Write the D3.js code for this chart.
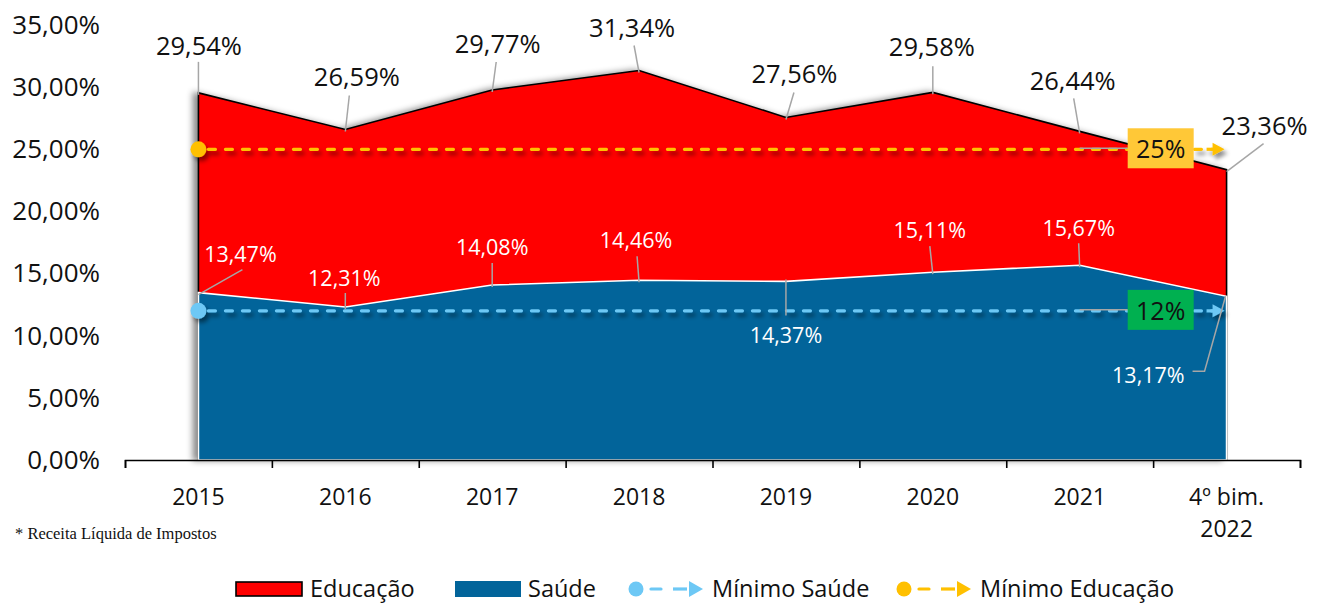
<!DOCTYPE html>
<html lang="pt-BR">
<head>
<meta charset="utf-8">
<title>Educação e Saúde – % da Receita Líquida de Impostos</title>
<script src="https://cdn.jsdelivr.net/npm/d3@7/dist/d3.min.js"></script>
<style>
  html, body { margin: 0; padding: 0; background: #fff; }
  svg { display: block; font-family: "Open Sans", sans-serif; }
</style>
</head>
<body>
<svg id="chart" width="1320" height="603"></svg>
<script>
// ---- data ----
const categories = ["2015", "2016", "2017", "2018", "2019", "2020", "2021", "4º bim.|2022"];
const educacao = [29.54, 26.59, 29.77, 31.34, 27.56, 29.58, 26.44, 23.36];
const saude = [13.47, 12.31, 14.08, 14.46, 14.37, 15.11, 15.67, 13.17];
const minimoEducacao = 25;
const minimoSaude = 12;
const yTicks = [0, 5, 10, 15, 20, 25, 30, 35];
const legendLabels = ["Educação", "Saúde", "Mínimo Saúde", "Mínimo Educação"];
const footnote = "* Receita Líquida de Impostos";

// ---- label layout: [label dx, label dy, leader dx, leader dy] relative to each point ----
const eduLabelLayout = [
  [0.5, -38, 0, -31], [11.5, -44, 4, -34], [5.5, -37, 4, -28], [-7, -33, -5, -25],
  [8.5, -34, 8, -25], [-1, -36, 0, -26], [-7, -41, -6, -33], [38, -35, 37, -26]
];
const saudeLabelLayout = [
  [42, -31, 44, -23], [-1, -21, 0, -14], [0, -30, 0, -22], [-3, -32, -2, -24],
  [0, 62, 0, 34], [-3, -34, -3, -26], [-1, -29, -1, -22], null
];

const colors = {
  educacao: "#FF0000",
  saude: "#02649A",
  minEdu: "#FFC000",
  minSaude: "#6DC8F5",
  boxEdu: "#FFC837",
  boxSaude: "#00B050",
  leader: "#A6A6A6"
};

const fmt = d3.formatLocale({ decimal: ",", thousands: ".", grouping: [3], currency: ["R$", ""] }).format(".2f");
const pct = v => fmt(v) + "%";

const svg = d3.select("#chart");

// ---- scales ----
const x = d3.scaleBand().domain(categories).range([125, 1300]).paddingInner(0).paddingOuter(0);
const cx = c => x(c) + x.bandwidth() / 2;
const y = d3.scaleLinear().domain([0, 35]).range([460, 25]);

// ---- filters ----
const defs = svg.append("defs");
defs.append("filter").attr("id", "areaShadow")
  .attr("x", "-5%").attr("y", "-5%").attr("width", "110%").attr("height", "110%")
  .append("feDropShadow")
  .attr("dx", -5).attr("dy", 0).attr("stdDeviation", 3)
  .attr("flood-color", "#000").attr("flood-opacity", 0.45);
defs.append("filter").attr("id", "lineShadow")
  .attr("x", "-5%").attr("y", "-100%").attr("width", "110%").attr("height", "300%")
  .append("feDropShadow")
  .attr("dx", 3).attr("dy", 4).attr("stdDeviation", 2.2)
  .attr("flood-color", "#000").attr("flood-opacity", 0.45);

// ---- y axis (labels only) ----
svg.append("g")
  .attr("transform", "translate(100,0)")
  .call(d3.axisLeft(y).tickValues(yTicks).tickFormat(pct).tickSize(0).tickPadding(0))
  .call(g => g.select(".domain").remove())
  .call(g => g.selectAll("text")
    .attr("font-family", "Open Sans, sans-serif")
    .attr("font-size", 26)
    .attr("fill", "#111"));

// ---- areas ----
const eduData = categories.map((c, i) => ({ c, v: educacao[i] }));
const saudeData = categories.map((c, i) => ({ c, v: saude[i] }));
const area = d3.area().x(d => cx(d.c)).y0(y(0)).y1(d => y(d.v));

svg.append("path")
  .datum(eduData)
  .attr("d", area)
  .attr("fill", colors.educacao)
  .attr("stroke", "#000")
  .attr("stroke-width", 1.6)
  .attr("stroke-linejoin", "miter")
  .attr("filter", "url(#areaShadow)");

svg.append("path")
  .datum(saudeData)
  .attr("d", area)
  .attr("fill", colors.saude)
  .attr("stroke", "#fff")
  .attr("stroke-width", 1.6);

// ---- x axis ----
const boundary = d3.scaleLinear().domain([0, categories.length]).range(x.range());
svg.append("g")
  .attr("transform", `translate(0,${y(0)})`)
  .call(d3.axisBottom(boundary).tickValues(d3.range(categories.length + 1)).tickFormat("").tickSize(8).tickSizeOuter(8))
  .call(g => g.selectAll("path, line").attr("stroke", "#000").attr("stroke-width", 1.6));

const xLabels = svg.append("g").attr("transform", `translate(0,${y(0)})`)
  .call(d3.axisBottom(x).tickSize(0).tickPadding(0).tickFormat(""))
  .call(g => g.select(".domain").remove());
xLabels.selectAll(".tick").each(function (c) {
  const t = d3.select(this).append("text")
    .attr("text-anchor", "middle")
    .attr("font-family", "Open Sans, sans-serif")
    .attr("font-size", 23)
    .attr("fill", "#111");
  c.split("|").forEach((line, k) => {
    t.append("tspan").attr("x", 0).attr("y", 45 + k * 32).text(line);
  });
});

// ---- minimum reference lines ----
function minimumLine(value, color) {
  const x0 = cx(categories[0]);
  const x1 = cx(categories[categories.length - 1]);
  const yy = y(value);
  const g = svg.append("g").attr("filter", "url(#lineShadow)");
  g.append("line")
    .attr("x1", x0).attr("x2", x1 - 14)
    .attr("y1", yy).attr("y2", yy)
    .attr("stroke", color).attr("stroke-width", 3.2)
    .attr("stroke-dasharray", "7,10").attr("stroke-dashoffset", -10)
    .attr("stroke-linecap", "round");
  g.append("path")
    .attr("d", `M${x1 - 2},${yy} L${x1 - 14},${yy - 6.5} L${x1 - 14},${yy + 6.5} Z`)
    .attr("fill", color);
  g.append("line")
    .attr("x1", x1 - 20).attr("x2", x1 - 12).attr("y1", yy).attr("y2", yy)
    .attr("stroke", color).attr("stroke-width", 3.2);
  g.append("circle").attr("cx", x0).attr("cy", yy).attr("r", 8).attr("fill", color);
}
minimumLine(minimoEducacao, colors.minEdu);
minimumLine(minimoSaude, colors.minSaude);

// callout boxes for the minimums
function minimumBox(value, fill) {
  const xs = cx(categories[6]);
  const bx = xs + 48, bw = 66, bh = 40;
  const yy = y(value);
  svg.append("line")
    .attr("x1", xs).attr("x2", bx).attr("y1", yy - 1).attr("y2", yy - 1)
    .attr("stroke", colors.leader).attr("stroke-width", 1.5);
  svg.append("rect")
    .attr("x", bx).attr("y", yy - bh / 2 - 1).attr("width", bw).attr("height", bh)
    .attr("fill", fill);
  svg.append("text")
    .attr("x", bx + bw / 2).attr("y", yy + 9)
    .attr("text-anchor", "middle")
    .attr("font-size", 25)
    .attr("fill", "#111")
    .text(value + "%");
}
minimumBox(minimoEducacao, colors.boxEdu);
minimumBox(minimoSaude, colors.boxSaude);

// ---- data labels ----
function labels(data, layout, color, size) {
  data.forEach((d, i) => {
    const l = layout[i];
    if (!l) return;
    const px = cx(d.c), py = y(d.v);
    svg.append("line")
      .attr("x1", px).attr("y1", py - Math.sign(l[3]) * 2)
      .attr("x2", px + l[2]).attr("y2", py + l[3])
      .attr("stroke", colors.leader).attr("stroke-width", 1.5);
    svg.append("text")
      .attr("x", px + l[0]).attr("y", py + l[1])
      .attr("text-anchor", "middle")
      .attr("font-size", size)
      .attr("fill", color)
      .text(pct(d.v));
  });
}
labels(eduData, eduLabelLayout, "#111", 25.5);
labels(saudeData, saudeLabelLayout, "#fff", 21.5);

// last Saúde point: elbow leader to a label on the left
{
  const d = saudeData[saudeData.length - 1];
  const px = cx(d.c), py = y(d.v);
  svg.append("path")
    .attr("d", `M${px - 1},${py} L${px - 22},${py + 75} L${px - 34},${py + 75}`)
    .attr("fill", "none")
    .attr("stroke", colors.leader).attr("stroke-width", 1.5);
  svg.append("text")
    .attr("x", px - 42).attr("y", py + 87)
    .attr("text-anchor", "end")
    .attr("font-size", 21.5)
    .attr("fill", "#fff")
    .text(pct(d.v));
}

// ---- footnote ----
svg.append("text")
  .attr("x", 15).attr("y", 539)
  .attr("font-family", "Liberation Serif, serif")
  .attr("font-size", 16.5)
  .attr("fill", "#111")
  .text(footnote);

// ---- legend ----
const legend = svg.append("g").attr("font-size", 23.5).attr("fill", "#111");
const ly = 589;
legend.append("rect").attr("x", 236).attr("y", ly - 7).attr("width", 66).attr("height", 14)
  .attr("fill", colors.educacao).attr("stroke", "#000").attr("stroke-width", 1.6);
legend.append("text").attr("x", 310).attr("y", ly + 8).text(legendLabels[0]);
legend.append("rect").attr("x", 455).attr("y", ly - 8).attr("width", 66).attr("height", 16)
  .attr("fill", colors.saude);
legend.append("text").attr("x", 528).attr("y", ly + 8).text(legendLabels[1]);

function legendLine(x0, color, label) {
  legend.append("circle").attr("cx", x0 + 7).attr("cy", ly).attr("r", 7.5).attr("fill", color);
  legend.append("line").attr("x1", x0 + 22).attr("x2", x0 + 32).attr("y1", ly).attr("y2", ly)
    .attr("stroke", color).attr("stroke-width", 3.2).attr("stroke-linecap", "round");
  legend.append("line").attr("x1", x0 + 44).attr("x2", x0 + 58).attr("y1", ly).attr("y2", ly)
    .attr("stroke", color).attr("stroke-width", 3.2);
  legend.append("path")
    .attr("d", `M${x0 + 74},${ly} L${x0 + 60},${ly - 8} L${x0 + 60},${ly + 8} Z`)
    .attr("fill", color);
  legend.append("text").attr("x", x0 + 83).attr("y", ly + 8).text(label);
}
legendLine(629, colors.minSaude, legendLabels[2]);
legendLine(897, colors.minEdu, legendLabels[3]);
</script>
</body>
</html>
